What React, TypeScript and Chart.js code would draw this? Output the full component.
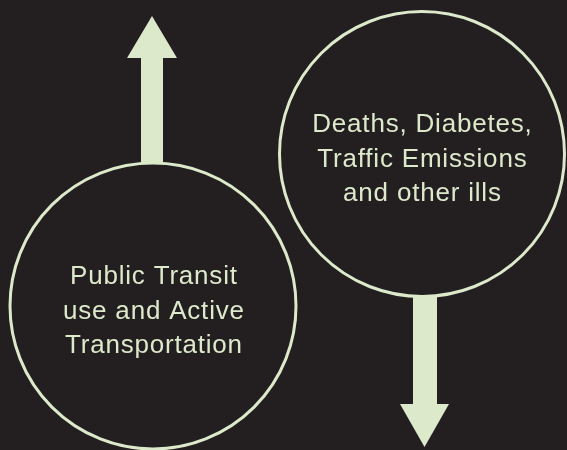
import React, { useEffect, useRef } from "react";
import { Chart, registerables } from "chart.js";

Chart.register(...registerables);

const W = 567;
const H = 450;

const BG = "#231f20";
const GREEN = "#dce9cb";

// circles (centre x, centre y, radius) in canvas units
const circleX = [153, 422];
const circleY = [306, 154];
const circleR = [143, 142.5];

// labels inside circles
const circleText = [
  ["Public Transit", "use and Active", "Transportation"],
  ["Deaths, Diabetes,", "Traffic Emissions", "and other ills"],
];
const textX = [153.5, 422];
const textBaseY = [284, 132];
const lineStep = 34.7;

// arrow outlines
const upArrowX = [141, 141, 127, 152, 177, 163, 163, 141];
const upArrowY = [164, 58, 58, 16, 58, 58, 164, 164];
const downArrowX = [413, 413, 400, 424.5, 449, 437, 437, 413];
const downArrowY = [296, 404, 404, 447, 404, 404, 296, 296];

const toPoints = (xs: number[], ys: number[]) => xs.map((x, i) => ({ x, y: ys[i] }));

const textPlugin = {
  id: "circleText",
  afterDatasetsDraw(chart: any) {
    const { ctx, scales } = chart;
    const xs = scales.x;
    const ys = scales.y;
    ctx.save();
    ctx.fillStyle = GREEN;
    ctx.font = "26px 'Liberation Sans', Arial, sans-serif";
    ctx.textAlign = "center";
    ctx.textBaseline = "alphabetic";
    (ctx as any).letterSpacing = "0.8px";
    circleText.forEach((lines, i) => {
      lines.forEach((line, j) => {
        ctx.fillText(
          line,
          xs.getPixelForValue(textX[i]) + 0.4,
          ys.getPixelForValue(textBaseY[i] + j * lineStep)
        );
      });
    });
    ctx.restore();
  },
};

const bgPlugin = {
  id: "bg",
  beforeDraw(chart: any) {
    const { ctx, width, height } = chart;
    ctx.save();
    ctx.fillStyle = BG;
    ctx.fillRect(0, 0, width, height);
    ctx.restore();
  },
};

export default function App() {
  const ref = useRef<HTMLCanvasElement | null>(null);

  useEffect(() => {
    document.body.style.margin = "0";
    document.body.style.background = BG;
    const canvas = ref.current;
    if (!canvas) return;
    const chart = new Chart(canvas, {
      type: "scatter",
      data: {
        datasets: [
          {
            type: "line",
            data: toPoints(upArrowX, upArrowY),
            showLine: true,
            fill: "shape",
            backgroundColor: GREEN,
            borderColor: GREEN,
            borderWidth: 0,
            pointRadius: 0,
            tension: 0,
            clip: false,
          } as any,
          {
            type: "line",
            data: toPoints(downArrowX, downArrowY),
            showLine: true,
            fill: "shape",
            backgroundColor: GREEN,
            borderColor: GREEN,
            borderWidth: 0,
            pointRadius: 0,
            tension: 0,
            clip: false,
          } as any,
          {
            type: "bubble",
            data: circleX.map((x, i) => ({ x, y: circleY[i], r: circleR[i] })),
            backgroundColor: "rgba(0,0,0,0)",
            borderColor: GREEN,
            borderWidth: 3,
            clip: false,
          } as any,
        ],
      },
      options: {
        animation: false,
        responsive: false,
        events: [],
        layout: { padding: 0, autoPadding: false },
        plugins: {
          legend: { display: false },
          tooltip: { enabled: false },
          title: { display: false },
        },
        scales: {
          x: { type: "linear", min: 0, max: W, display: false },
          y: { type: "linear", min: 0, max: H, reverse: true, display: false },
        },
      },
      plugins: [bgPlugin, textPlugin],
    });
    return () => chart.destroy();
  }, []);

  return (
    <div style={{ width: W, height: H, background: BG }}>
      <canvas ref={ref} width={W} height={H} style={{ display: "block" }} />
    </div>
  );
}
